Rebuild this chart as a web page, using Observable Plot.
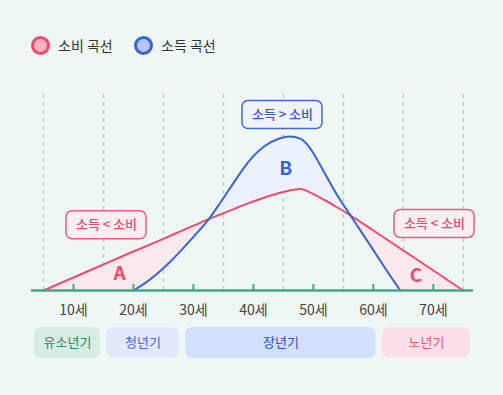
<!DOCTYPE html>
<html><head><meta charset="utf-8">
<script src="https://cdn.jsdelivr.net/npm/d3@7"></script>
<script src="https://cdn.jsdelivr.net/npm/@observablehq/plot@0.6"></script>
<style>
body{margin:0;background:#eef7f3;font-family:"Noto Sans CJK KR","Noto Sans",sans-serif;}
#wrap{width:503px;height:395px;overflow:hidden;position:relative;}
#legend{height:80px;position:relative;}
.item{position:absolute;top:35px;height:20px;display:flex;align-items:center;font-size:14px;color:#333;white-space:nowrap;}
.sw{width:19px;height:19px;border-radius:50%;box-sizing:border-box;border:3.5px solid;margin-right:8px;}
svg{overflow:visible;display:block;}
</style></head><body><div id="wrap"><div id="legend"></div><div id="chart"></div></div>
<script>
// legend
const seriesNames = ["소비 곡선", "소득 곡선"];
const seriesColors = ["#ef4b6c", "#3a62dc"];
const seriesLight = ["#fbb3c2", "#b5c7f6"];

// curves (age, value)
const ages        = [5, 10, 15, 20, 22, 24, 26, 28, 30, 32.6, 34.5, 36.8, 38, 40, 42, 44, 46, 47.9, 49.6, 51, 52, 54, 56.2, 58, 60, 62, 63.5, 64.5, 67, 70, 75];
const consumption = [0, 6.5, 13, 19.5, 22, 24.6, 27.2, 29.8, 32.4, 35.8, 38, 40.8, 42.3, 44.5, 46.6, 48.5, 50, 50.8, 48.8, 46.6, 45, 41.5, 37.5, 34, 30, 26, 23, 21, 16, 10, 0];
const income      = [null, null, null, 0, 3.8, 8.5, 14, 20.2, 26.8, 35.8, 44, 54.3, 59.6, 67.2, 72.5, 75.6, 77, 75.8, 70.5, 63.5, 58, 47.5, 37.5, 29.3, 20.2, 11, 4.3, 0, null, null, null];
const crossAges   = [32.6, 56.2];

// region letters
const letters    = ["A", "B", "C"];
const letterAge  = [17.7, 45.4, 67.1];
const letterVal  = [8.3, 60.8, 7.5];

// annotation boxes
const notes    = ["소득 < 소비", "소득 > 소비", "소득 < 소비"];
const noteAge  = [15.5, 44.85, 70.2];
const noteVal  = [32.6, 87.75, 33.3];

// axis
const tickAges = [10, 20, 30, 40, 50, 60, 70];
const tickLabels = ["10세", "20세", "30세", "40세", "50세", "60세", "70세"];
const gridAges = [5, 15, 25, 35, 45, 55, 65, 75];

// life phases
const phases     = ["유소년기", "청년기", "장년기", "노년기"];
const phaseStart = [3, 15, 28.2, 61];
const phaseEnd   = [15, 28.2, 61, 76.7];

// ---- build
const legend = document.getElementById("legend");
const legendLeft = [31, 134];
seriesNames.forEach((n, i) => {
  const d = document.createElement("div");
  d.className = "item";
  d.style.left = legendLeft[i] + "px";
  d.innerHTML = `<span class="sw" style="border-color:${seriesColors[i]};background:${seriesLight[i]}"></span><span>${n}</span>`;
  legend.appendChild(d);
});

const table = ages.map((a, i) => ({age: a, c: consumption[i], inc: income[i]}));
const regA = table.filter(d => d.age <= crossAges[0]);
const regB = table.filter(d => d.age >= crossAges[0] && d.age <= crossAges[1]);
const regC = table.filter(d => d.age >= crossAges[1]);
const letterData = letters.map((l, i) => ({l, x: letterAge[i], y: letterVal[i], c: i === 1 ? seriesColors[1] : seriesColors[0]}));
const noteData = notes.map((t, i) => ({t, x: noteAge[i], y: noteVal[i], i}));
const noteStroke = ["#ef5a77", "#4468dc", "#ef5a77"];
const noteFill = ["#fdeef2", "#eef3fe", "#fdeef2"];
const noteText = ["#e8486a", "#3457cc", "#e8486a"];
const ticks = tickAges.map((a, i) => ({a, t: tickLabels[i]}));
const phaseData = phases.map((p, i) => ({p, s: phaseStart[i], e: phaseEnd[i], i}));
const phaseFill = ["#d6ece4", "#e3e9fc", "#d3e0fb", "#fbe1e7"];
const phaseText = ["#2d8a6b", "#4466d6", "#2b4db6", "#e3566f"];
const green = "#3fa88a";

const chart = Plot.plot({
  width: 503,
  height: 315,
  marginLeft: 31,
  marginRight: 30,
  marginTop: 10,
  marginBottom: 105,
  style: {background: "transparent", fontFamily: "'Noto Sans CJK KR', 'Noto Sans', sans-serif"},
  x: {domain: [3, 76.7], axis: null},
  y: {domain: [0, 100], axis: null},
  marks: [
    Plot.ruleX(gridAges, {x: d => d, y1: 0, y2: 99, stroke: "#aadbca", strokeWidth: 1.5, strokeDasharray: "4,4"}),
    Plot.areaY(regA, {x: "age", y1: d => d.inc ?? 0, y2: "c", fill: "#fce9ee", curve: "monotone-x"}),
    Plot.areaY(regB, {x: "age", y1: "c", y2: "inc", fill: "#ecf2fd", curve: "monotone-x"}),
    Plot.areaY(regC, {x: "age", y1: d => d.inc ?? 0, y2: "c", fill: "#fce9ee", curve: "monotone-x"}),
    Plot.line(table, {x: "age", y: "c", stroke: seriesColors[0], strokeWidth: 2, curve: "monotone-x"}),
    Plot.line(table.filter(d => d.inc != null), {x: "age", y: "inc", stroke: seriesColors[1], strokeWidth: 2, curve: "monotone-x"}),
    Plot.ruleY([0], {stroke: green, strokeWidth: 2.5}),
    Plot.ruleX(ticks, {x: "a", y1: 0, y2: 3, stroke: green, strokeWidth: 2}),
    Plot.text(ticks, {x: "a", y: -10, text: "t", fontSize: 14, fill: "#444"}),
    Plot.text(letterData, {x: "x", y: "y", text: "l", fill: "c", fontSize: 19, fontWeight: "bold"}),
    Plot.rect(noteData, {x1: "x", x2: "x", y1: "y", y2: "y", insetLeft: -40, insetRight: -40, insetTop: -14, insetBottom: -14, rx: 6, fill: d => noteFill[d.i], stroke: d => noteStroke[d.i], strokeWidth: 1.5}),
    Plot.text(noteData, {x: "x", y: "y", text: "t", fill: d => noteText[d.i], fontSize: 13, fontWeight: 500}),
    Plot.rect(phaseData, {x1: "s", x2: "e", y1: -18.5, y2: -34, insetLeft: 3, insetRight: 3, rx: 7, fill: d => phaseFill[d.i]}),
    Plot.text(phaseData, {x: d => (d.s + d.e) / 2, y: -26.25, text: "p", fill: d => phaseText[d.i], fontSize: 13})
  ]
});
document.getElementById("chart").appendChild(chart);
</script>
</body></html>
